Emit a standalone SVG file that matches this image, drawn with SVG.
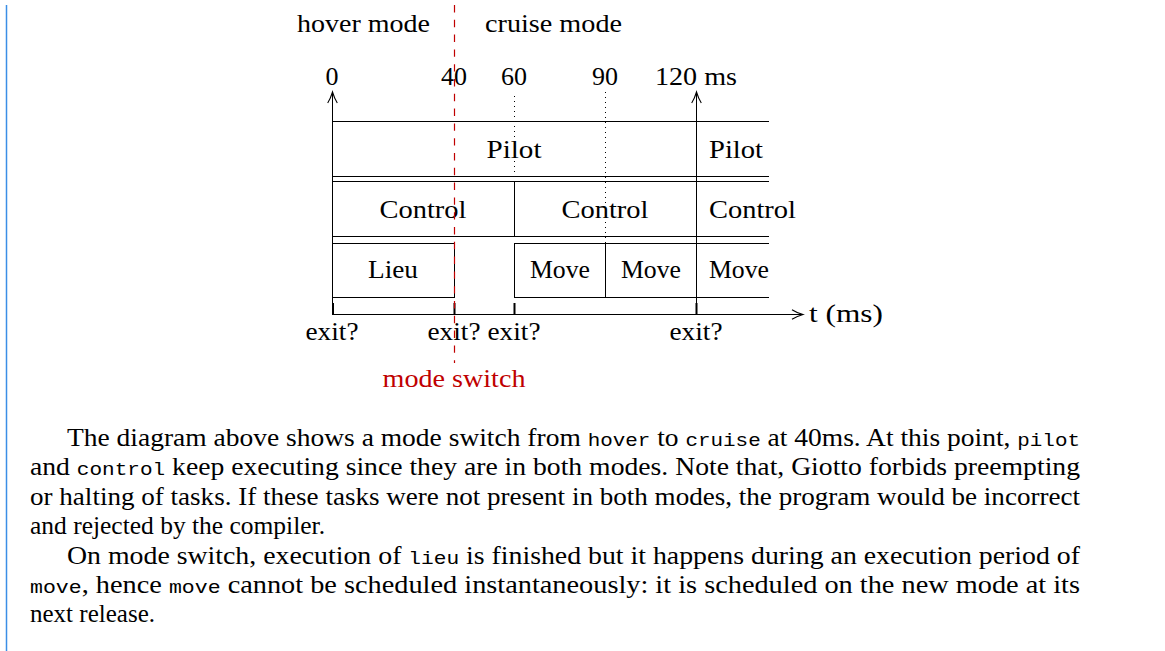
<svg xmlns="http://www.w3.org/2000/svg" width="1165" height="651" viewBox="0 0 1165 651">
  <style>
    .lbl { font-family: "Liberation Serif", "DejaVu Serif", serif; font-size: 26px; fill: #000; }
    .mid { text-anchor: middle; }
    .red { fill: #c00000; }
    .body { font-family: "Liberation Serif", "DejaVu Serif", serif; font-size: 25px; fill: #000; }
    .tt { font-family: "Liberation Mono", "DejaVu Sans Mono", monospace; font-size: 19px; }
    .ln { stroke: #000; stroke-width: 1; fill: none; }
    .tick { stroke: #000; stroke-width: 2; fill: none; }
    .dot { stroke: #000; stroke-width: 1; stroke-dasharray: 1 4; fill: none; }
    .dash { stroke: #c00000; stroke-width: 1.2; stroke-dasharray: 7.4 7.4; fill: none; }
  </style>
  <defs>
    <marker id="to" viewBox="-13 -7 15 14" markerWidth="15" markerHeight="14" refX="0" refY="0" orient="auto" markerUnits="userSpaceOnUse">
      <path d="M -11,-4.8 C -7,-2.2 -2,-0.6 0,0 C -2,0.6 -7,2.2 -11,4.8" stroke="#000" stroke-width="1.1" fill="none"/>
    </marker>
  </defs>

  <!-- margin rule -->
  <line x1="6.5" y1="5" x2="6.5" y2="651" stroke="#3b8ee6" stroke-width="1.5"/>

  <!-- mode headings -->
  <g id="modes">
    <text class="lbl" x="297" y="32" textLength="133" lengthAdjust="spacingAndGlyphs">hover mode</text>
    <text class="lbl" x="485" y="32" textLength="137" lengthAdjust="spacingAndGlyphs">cruise mode</text>
  </g>

  <!-- time scale -->
  <g id="scale">
    <text class="lbl mid" x="332" y="85">0</text>
    <text class="lbl mid" x="454" y="85">40</text>
    <text class="lbl mid" x="514" y="85">60</text>
    <text class="lbl mid" x="605" y="85">90</text>
    <text class="lbl" x="655" y="85" textLength="82" lengthAdjust="spacingAndGlyphs">120 ms</text>
  </g>

  <!-- task rows -->
  <g id="pilot">
    <line class="ln" x1="332" y1="121.5" x2="769" y2="121.5"/>
    <line class="ln" x1="332" y1="176.5" x2="769" y2="176.5"/>
    <text class="lbl mid" x="514" y="158" textLength="55" lengthAdjust="spacingAndGlyphs">Pilot</text>
    <text class="lbl" x="709" y="158" textLength="54" lengthAdjust="spacingAndGlyphs">Pilot</text>
  </g>
  <g id="control">
    <line class="ln" x1="332" y1="181.5" x2="769" y2="181.5"/>
    <line class="ln" x1="332" y1="236.5" x2="769" y2="236.5"/>
    <line class="ln" x1="514.5" y1="181.5" x2="514.5" y2="236.5"/>
    <text class="lbl mid" x="423" y="218" textLength="87" lengthAdjust="spacingAndGlyphs">Control</text>
    <text class="lbl mid" x="605" y="218" textLength="87" lengthAdjust="spacingAndGlyphs">Control</text>
    <text class="lbl" x="709" y="218" textLength="87" lengthAdjust="spacingAndGlyphs">Control</text>
  </g>
  <g id="lieu">
    <rect class="ln" x="332.5" y="243.5" width="122" height="54"/>
    <text class="lbl mid" x="393" y="278" textLength="50" lengthAdjust="spacingAndGlyphs">Lieu</text>
  </g>
  <g id="move">
    <line class="ln" x1="514" y1="243.5" x2="769" y2="243.5"/>
    <line class="ln" x1="514" y1="297.5" x2="769" y2="297.5"/>
    <line class="ln" x1="514.5" y1="243.5" x2="514.5" y2="297.5"/>
    <line class="ln" x1="605.5" y1="243.5" x2="605.5" y2="297.5"/>
    <text class="lbl mid" x="560" y="278" textLength="60" lengthAdjust="spacingAndGlyphs">Move</text>
    <text class="lbl mid" x="651" y="278" textLength="60" lengthAdjust="spacingAndGlyphs">Move</text>
    <text class="lbl" x="709" y="278" textLength="60" lengthAdjust="spacingAndGlyphs">Move</text>
  </g>

  <!-- exit checks -->
  <g id="exits">
    <text class="lbl mid" x="332" y="340" textLength="53" lengthAdjust="spacingAndGlyphs">exit?</text>
    <text class="lbl mid" x="454" y="340" textLength="53" lengthAdjust="spacingAndGlyphs">exit?</text>
    <text class="lbl mid" x="514" y="340" textLength="53" lengthAdjust="spacingAndGlyphs">exit?</text>
    <text class="lbl mid" x="696" y="340" textLength="53" lengthAdjust="spacingAndGlyphs">exit?</text>
  </g>

  <g id="axis-label">
    <text class="lbl" x="809" y="322" textLength="74" lengthAdjust="spacingAndGlyphs">t (ms)</text>
  </g>

  <g id="switch-label">
    <text class="lbl mid red" x="454" y="387" textLength="143" lengthAdjust="spacingAndGlyphs">mode switch</text>
  </g>

  <!-- connectors: release arrows, time axis, ticks, guides -->
  <g id="connectors">
    <line class="ln" x1="332.5" y1="314" x2="332.5" y2="92" marker-end="url(#to)"/>
    <line class="ln" x1="696.5" y1="314" x2="696.5" y2="92" marker-end="url(#to)"/>
    <line class="ln" x1="332" y1="314.5" x2="803" y2="314.5" marker-end="url(#to)"/>
    <line class="tick" x1="333" y1="303" x2="333" y2="314"/>
    <line class="tick" x1="454.5" y1="303" x2="454.5" y2="314"/>
    <line class="tick" x1="514.5" y1="303" x2="514.5" y2="314"/>
    <line class="tick" x1="696.5" y1="303" x2="696.5" y2="314"/>
    <line class="dot" x1="514.5" y1="96" x2="514.5" y2="181"/>
    <line class="dot" x1="605.5" y1="92" x2="605.5" y2="243"/>
    <line class="dash" x1="454.5" y1="5" x2="454.5" y2="363"/>
  </g>

  <!-- explanatory text -->
  <g id="caption">
    <text class="body" x="67" y="446" textLength="1013" lengthAdjust="spacingAndGlyphs">The diagram above shows a mode switch from <tspan class="tt">hover</tspan> to <tspan class="tt">cruise</tspan> at 40ms. At this point, <tspan class="tt">pilot</tspan></text>
    <text class="body" x="30" y="475" textLength="1050" lengthAdjust="spacingAndGlyphs">and <tspan class="tt">control</tspan> keep executing since they are in both modes. Note that, Giotto forbids preempting</text>
    <text class="body" x="30" y="505" textLength="1050" lengthAdjust="spacingAndGlyphs">or halting of tasks. If these tasks were not present in both modes, the program would be incorrect</text>
    <text class="body" x="30" y="534" textLength="295" lengthAdjust="spacingAndGlyphs">and rejected by the compiler.</text>
    <text class="body" x="67" y="564" textLength="1013" lengthAdjust="spacingAndGlyphs">On mode switch, execution of <tspan class="tt">lieu</tspan> is finished but it happens during an execution period of</text>
    <text class="body" x="30" y="593" textLength="1050" lengthAdjust="spacingAndGlyphs"><tspan class="tt">move</tspan>, hence <tspan class="tt">move</tspan> cannot be scheduled instantaneously: it is scheduled on the new mode at its</text>
    <text class="body" x="30" y="622" textLength="125" lengthAdjust="spacingAndGlyphs">next release.</text>
  </g>
</svg>
